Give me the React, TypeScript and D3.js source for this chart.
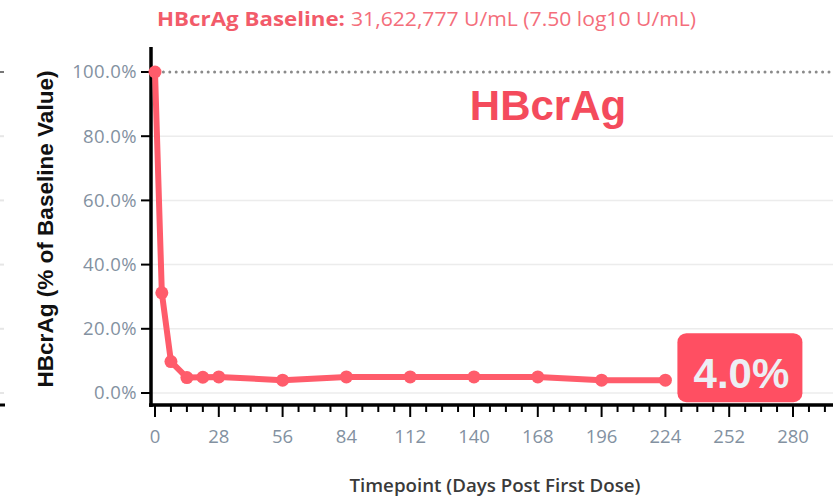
import React from "react";
import * as d3 from "d3";

const days = [0, 3, 7, 14, 21, 28, 56, 84, 112, 140, 168, 196, 224];
const pctOfBaseline = [100, 31.2, 9.8, 4.8, 4.9, 5.0, 4.0, 5.0, 5.0, 5.0, 5.0, 4.0, 4.0];
const xTicks = [0, 28, 56, 84, 112, 140, 168, 196, 224, 252, 280];
const xMinorTicks = d3.range(0, 295, 7);
const yTicks = [0, 20, 40, 60, 80, 100];
const titleBold = "HBcrAg Baseline:";
const titleRest = "31,622,777 U/mL (7.50 log10 U/mL)";
const yTitle = "HBcrAg (% of Baseline Value)";
const xTitle = "Timepoint (Days Post First Dose)";
const seriesLabel = "HBcrAg";
const lastLabel = "4.0%";

const W = 833;
const H = 501;
const LINE = "#ff5c6b";
const TICKCOL = "#8391a1";
const TFONT = "'Open Sans', sans-serif";
const BFONT = "'Liberation Sans', Arial, sans-serif";

export default function App() {
  const x = d3.scaleLinear().domain([0, 280]).range([155, 793]);
  const y = d3.scaleLinear().domain([0, 100]).range([393, 72]);
  const line = d3
    .line<number>()
    .x((_, i) => x(days[i]))
    .y((d) => y(d));
  const axisY = 405;
  const axisX = 151;
  const lastX = x(days[days.length - 1]);
  const lastY = y(pctOfBaseline[pctOfBaseline.length - 1]);

  return (
    <svg
      width={W}
      height={H}
      style={{ position: "absolute", left: 0, top: 0, background: "#fff" }}
    >
      <rect x={0} y={0} width={W} height={H} fill="#fff" />
      {/* title */}
      <text x={157} y={26} fontFamily={TFONT} fontSize={19.5} fontWeight={700} fill="#f25b6a" textLength={188} lengthAdjust="spacingAndGlyphs">
        {titleBold}
      </text>
      <text x={351} y={26} fontFamily={TFONT} fontSize={19.5} fill="#f46e7b" textLength={345} lengthAdjust="spacingAndGlyphs">
        {titleRest}
      </text>

      {/* neighbor panel remnants at left edge */}
      {yTicks.map((t) => (
        <line key={"l" + t} x1={0} x2={4} y1={y(t)} y2={y(t)} stroke={t === 100 ? "#777" : "#e6e6e6"} strokeWidth={2} />
      ))}
      <line x1={0} x2={5} y1={axisY} y2={axisY} stroke="#000" strokeWidth={3} />

      {/* gridlines */}
      {yTicks.filter((t) => t !== 100).map((t) => (
        <line key={"g" + t} x1={axisX} x2={W} y1={y(t)} y2={y(t)} stroke="#ececec" strokeWidth={1.5} />
      ))}
      <line x1={axisX + 6} x2={W} y1={y(100)} y2={y(100)} stroke="#8a8a8a" strokeWidth={3} strokeDasharray="0 6.4" strokeLinecap="round" />

      {/* y axis */}
      <line x1={axisX} x2={axisX} y1={47} y2={axisY + 2} stroke="#000" strokeWidth={3.5} />
      {yTicks.map((t) => (
        <g key={"yt" + t}>
          <line x1={141} x2={axisX} y1={y(t)} y2={y(t)} stroke="#000" strokeWidth={2} />
          <text x={137} y={y(t)} dy="0.35em" textAnchor="end" fontFamily={TFONT} fontSize={18.5} fill={TICKCOL} letterSpacing={0.4}>
            {d3.format(".1f")(t) + "%"}
          </text>
        </g>
      ))}
      <text
        transform={`translate(53,229) rotate(-90)`}
        textAnchor="middle"
        fontFamily={BFONT}
        fontSize={22}
        fontWeight={700}
        fill="#111"
        textLength={317}
        lengthAdjust="spacingAndGlyphs"
      >
        {yTitle}
      </text>

      {/* x axis */}
      <line x1={axisX - 2} x2={W} y1={axisY} y2={axisY} stroke="#000" strokeWidth={3.5} />
      {xMinorTicks.map((t) => (
        <line key={"mt" + t} x1={x(t)} x2={x(t)} y1={axisY} y2={xTicks.includes(t) ? 417 : 412} stroke="#000" strokeWidth={2} />
      ))}
      {xTicks.map((t) => (
        <text key={"xt" + t} x={x(t)} y={443} textAnchor="middle" fontFamily={TFONT} fontSize={18.5} fill={TICKCOL}>
          {t}
        </text>
      ))}
      <text x={495} y={492} textAnchor="middle" fontFamily={TFONT} fontSize={18} fontWeight={600} fill="#3a3a3a" textLength={291} lengthAdjust="spacingAndGlyphs">
        {xTitle}
      </text>

      {/* series */}
      <path d={line(pctOfBaseline) || ""} fill="none" stroke={LINE} strokeWidth={6} strokeLinejoin="round" />
      {pctOfBaseline.map((v, i) => (
        <circle key={"p" + i} cx={x(days[i])} cy={y(v)} r={6.5} fill={LINE} />
      ))}

      {/* labels */}
      <text x={548} y={120} textAnchor="middle" fontFamily={BFONT} fontSize={42} fontWeight={700} fill="#f44b5c">
        {seriesLabel}
      </text>
      <rect x={lastX + 12} y={lastY - 47} width={125} height={69} rx={9} fill="#ff4f62" />
      <text x={lastX + 76} y={lastY + 8} textAnchor="middle" fontFamily={BFONT} fontSize={42} fontWeight={700} fill="#eceff4">
        {lastLabel}
      </text>
    </svg>
  );
}
